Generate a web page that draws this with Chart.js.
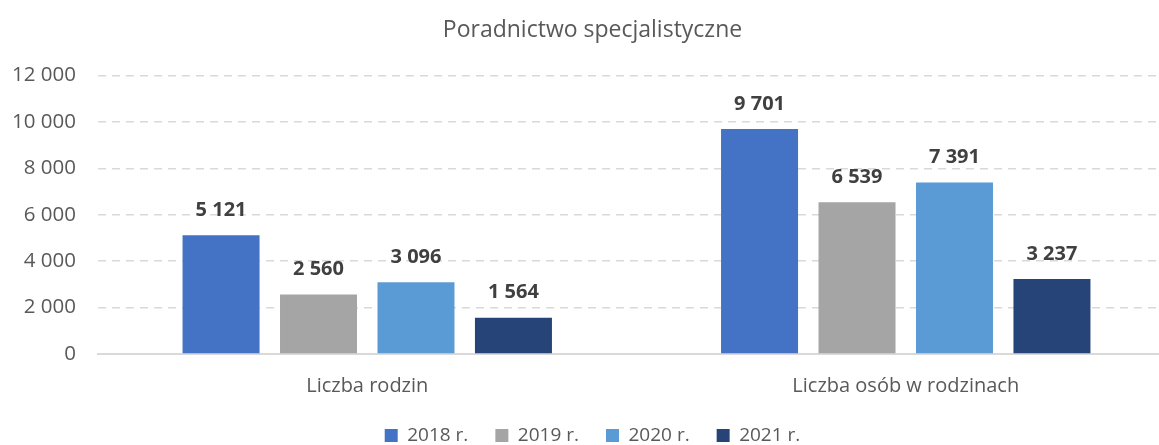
<!DOCTYPE html>
<html>
<head>
<meta charset="utf-8">
<script src="https://cdn.jsdelivr.net/npm/chart.js@4/dist/chart.umd.min.js"></script>
<style>
  html, body { margin: 0; padding: 0; background: #fff; overflow: hidden; }
  #wrap { position: relative; width: 1196px; height: 457px; }
</style>
</head>
<body>
<div id="wrap"><canvas id="chart"></canvas></div>
<script>
// Data
const categories = ['Liczba rodzin', 'Liczba osób w rodzinach'];
const years = ['2018 r.', '2019 r.', '2020 r.', '2021 r.'];
const values2018 = [5121, 9701];
const values2019 = [2560, 6539];
const values2020 = [3096, 7391];
const values2021 = [1564, 3237];
const yTicks = [0, 2000, 4000, 6000, 8000, 10000, 12000];

const colors = ['#4472C4', '#A5A5A5', '#5B9BD5', '#264478'];
const FONT = '"Open Sans", sans-serif';

function fmt(v) {
    return String(v).replace(/\B(?=(\d{3})+(?!\d))/g, ' ');
}

// simple value labels above each bar
const barLabels = {
    id: 'barLabels',
    afterDatasetsDraw(chart) {
        const ctx = chart.ctx;
        ctx.save();
        ctx.font = 'bold 20px ' + FONT;
        ctx.fillStyle = '#404040';
        ctx.textAlign = 'center';
        ctx.textBaseline = 'middle';
        chart.data.datasets.forEach((ds, i) => {
            chart.getDatasetMeta(i).data.forEach((bar, j) => {
                ctx.fillText(fmt(ds.data[j]), bar.x, bar.y - 25);
            });
        });
        ctx.restore();
    }
};

const seriesValues = [values2018, values2019, values2020, values2021];

new Chart(document.getElementById('chart'), {
    type: 'bar',
    data: {
        labels: categories,
        datasets: years.map((y, i) => ({
            label: y,
            data: seriesValues[i],
            backgroundColor: colors[i],
            borderWidth: 0,
            categoryPercentage: 0.724,
            barPercentage: 0.79
        }))
    },
    options: {
        responsive: true,
        maintainAspectRatio: false,
        animation: false,
        layout: { padding: { left: 10, right: 21, top: 0, bottom: 2 } },
        plugins: {
            title: {
                display: true,
                text: 'Poradnictwo specjalistyczne',
                color: '#595959',
                font: { family: FONT, size: 23, weight: 'normal' },
                padding: { top: 17, bottom: 31 }
            },
            legend: {
                position: 'bottom',
                labels: {
                    color: '#595959',
                    font: { family: FONT, size: 19 },
                    boxWidth: 13,
                    boxHeight: 13,
                    padding: 27
                }
            },
            tooltip: { enabled: false }
        },
        scales: {
            x: {
                grid: { display: false },
                border: { display: true, color: '#D9D9D9', width: 2 },
                afterFit(scale) { scale.height -= 11; },
                ticks: {
                    color: '#595959',
                    font: { family: FONT, size: 20 },
                    padding: 12
                }
            },
            y: {
                min: 0,
                max: 12000,
                afterBuildTicks(scale) {
                    scale.ticks = yTicks.map(v => ({ value: v }));
                },
                afterFit(scale) { scale.width = 88; },
                grid: {
                    color: '#D9D9D9',
                    lineWidth: 1.5,
                    drawTicks: false
                },
                border: { display: false, dash: [8, 6] },
                ticks: {
                    color: '#595959',
                    font: { family: FONT, size: 20.5 },
                    padding: 22,
                    callback: v => fmt(v)
                }
            }
        }
    },
    plugins: [barLabels]
});
</script>
</body>
</html>
